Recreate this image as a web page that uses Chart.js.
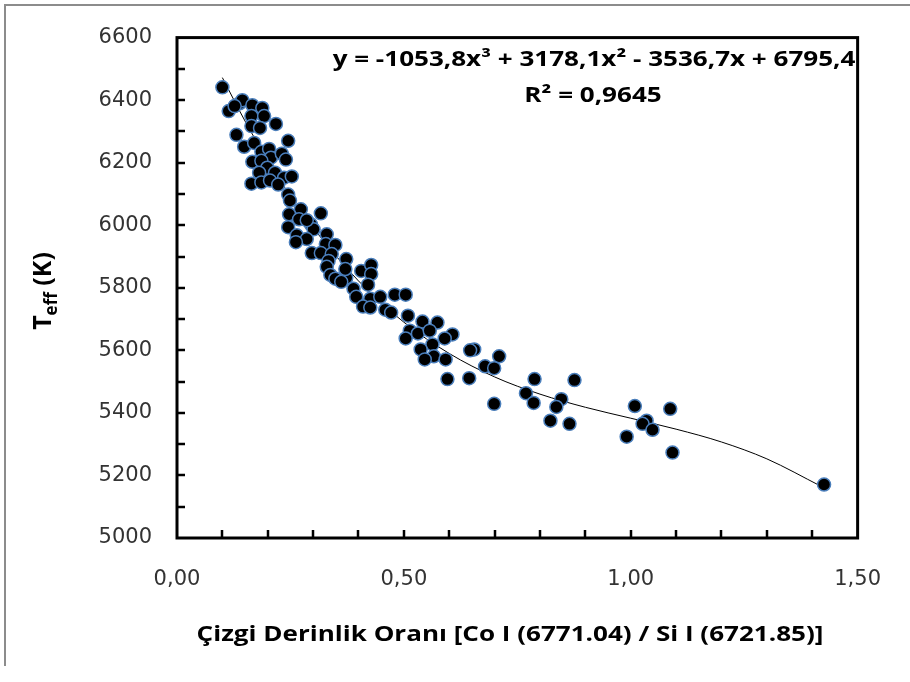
<!DOCTYPE html>
<html lang="tr">
<head>
<meta charset="UTF-8">
<title>Teff - Çizgi Derinlik Oranı</title>
<script src="https://cdn.jsdelivr.net/npm/chart.js"></script>
<style>
  body { margin: 0; background: #fff; }
  canvas { display: block; }
</style>
</head>
<body>
<canvas id="chart" width="910" height="682"></canvas>
<script>
// line depth ratio (x) and Teff in K (y)
const ratio = [0.100,0.138,0.144,0.114,0.127,0.166,0.188,0.164,0.192,0.218,
  0.164,0.183,0.131,0.245,0.148,0.170,0.186,0.203,0.207,0.231,
  0.166,0.186,0.240,0.199,0.181,0.216,0.164,0.186,0.205,0.236,
  0.253,0.223,0.245,0.249,0.273,0.247,0.269,0.317,0.295,0.245,
  0.301,0.264,0.330,0.286,0.262,0.328,0.349,0.297,0.317,0.341,
  0.334,0.373,0.330,0.406,0.428,0.428,0.338,0.349,0.373,0.362,
  0.421,0.389,0.395,0.426,0.448,0.371,0.480,0.504,0.410,0.426,
  0.459,0.472,0.509,0.541,0.574,0.513,0.504,0.531,0.557,0.607,
  0.590,0.563,0.537,0.566,0.546,0.592,0.655,0.646,0.710,0.679,
  0.699,0.596,0.644,0.699,0.788,0.876,0.769,0.786,0.847,0.836,
  0.823,0.865,1.009,1.035,1.026,1.048,0.991,1.087,1.092,1.426,
  0.286];
const teff = [6441,6390,6400,6365,6381,6384,6375,6349,6349,6324,
  6317,6311,6289,6270,6251,6263,6235,6244,6216,6229,
  6203,6206,6210,6184,6168,6168,6133,6137,6143,6152,
  6156,6130,6098,6079,6051,6035,6019,6038,6003,5994,
  5987,5968,5971,5956,5946,5940,5937,5911,5911,5908,
  5886,5892,5867,5854,5873,5844,5841,5829,5832,5819,
  5810,5797,5771,5765,5771,5860,5778,5778,5740,5737,
  5730,5721,5711,5692,5689,5663,5638,5654,5663,5651,
  5638,5619,5603,5581,5571,5571,5603,5600,5581,5549,
  5543,5508,5511,5429,5508,5505,5463,5432,5444,5419,
  5375,5365,5422,5375,5365,5346,5324,5413,5273,5171,
  6016];

// polynomial trendline, points
const trendX = [0.10,0.15,0.20,0.25,0.30,0.40,0.50,0.60,0.70,0.80,0.90,1.00,1.10,1.20,1.30,1.42];
const trendY = [6472,6333,6207,6093,5992,5822,5690,5590,5515,5460,5418,5383,5348,5307,5253,5165];

const eqText = "y = -1053,8x³ + 3178,1x² - 3536,7x + 6795,4";
const r2Text = "R² = 0,9645";
const xTitle = "Çizgi Derinlik Oranı [Co I (6771.04) / Si I (6721.85)]";

const FONT = "'Open Sans', 'Liberation Sans', sans-serif";
const TICK_FONT = "'DejaVu Sans', 'Open Sans', sans-serif";
const STRETCH = 1.24;   // the original picture is widened horizontally

const points = ratio.map((x, i) => ({ x: x, y: teff[i] }));
const trend = trendX.map((x, i) => ({ x: x, y: trendY[i] }));

function wideText(c, text, cx, cy) {
  c.save();
  c.translate(cx, cy);
  c.scale(STRETCH, 1);
  c.fillText(text, 0, 0);
  c.restore();
}

// box, inward tick marks, titles and the trendline equation
const decor = {
  id: 'decor',
  beforeDraw(chart) {
    const c = chart.ctx;
    c.save();
    c.fillStyle = '#fff';
    c.fillRect(0, 0, chart.width, chart.height);
    c.strokeStyle = '#8c8c8c';
    c.lineWidth = 2;
    c.beginPath();
    c.moveTo(5, 666);
    c.lineTo(5, 5);
    c.lineTo(910, 5);
    c.stroke();
    c.restore();
  },
  afterDraw(chart) {
    const c = chart.ctx;
    const a = chart.chartArea;
    const xs = chart.scales.x, ys = chart.scales.y;
    c.save();
    c.strokeStyle = '#000';
    c.lineWidth = 3;
    c.strokeRect(a.left, a.top, a.right - a.left, a.bottom - a.top);

    c.lineWidth = 2.5;
    c.beginPath();
    for (let v = 5100; v < 6600; v += 100) {
      const py = Math.round(ys.getPixelForValue(v));
      c.moveTo(a.left, py);
      c.lineTo(a.left + 8, py);
    }
    for (let k = 1; k < 15; k++) {
      const px = Math.round(xs.getPixelForValue(k / 10));
      c.moveTo(px, a.bottom);
      c.lineTo(px, a.bottom - 8);
    }
    c.stroke();

    c.fillStyle = '#000';
    c.textAlign = 'center';
    c.textBaseline = 'middle';
    c.font = "bold 21px " + FONT;
    wideText(c, eqText, 594, 60);
    wideText(c, r2Text, 593, 96);
    wideText(c, xTitle, 510, 635);

    // y title: T with subscript eff, rotated
    c.translate(42, 291);
    c.rotate(-Math.PI / 2);
    c.textAlign = 'left';
    c.textBaseline = 'alphabetic';
    const big = "bold 25px " + FONT, small = "bold 17px " + FONT;
    c.font = big;
    const wT = c.measureText("T").width;
    const wK = c.measureText(" (K)").width;
    c.font = small;
    const wE = c.measureText("eff").width;
    const x0 = -(wT + wE + wK) / 2;
    c.font = big;
    c.fillText("T", x0, 9);
    c.font = small;
    c.fillText("eff", x0 + wT, 15);
    c.font = big;
    c.fillText(" (K)", x0 + wT + wE, 9);
    c.restore();
  }
};

new Chart(document.getElementById('chart'), {
  type: 'scatter',
  data: {
    datasets: [
      {
        label: 'Teff',
        data: points,
        pointRadius: 6.5,
        pointBackgroundColor: '#000',
        pointBorderColor: '#4a7ebb',
        pointBorderWidth: 1.5
      },
      {
        label: 'Trend',
        type: 'line',
        data: trend,
        showLine: true,
        borderColor: '#000',
        borderWidth: 1,
        pointRadius: 0,
        fill: false,
        cubicInterpolationMode: 'monotone'
      }
    ]
  },
  options: {
    responsive: false,
    animation: false,
    layout: { padding: { left: 0, top: 34, right: 46, bottom: 0 } },
    plugins: { legend: { display: false }, tooltip: { enabled: false } },
    scales: {
      x: {
        type: 'linear',
        min: 0,
        max: 1.5,
        afterFit(s) { s.height = 144; },
        grid: { display: false, drawTicks: false },
        border: { display: false },
        ticks: {
          stepSize: 0.5,
          padding: 29,
          color: '#333',
          font: { family: TICK_FONT, size: 21 },
          callback: v => v.toFixed(2).replace('.', ',')
        }
      },
      y: {
        min: 5000,
        max: 6600,
        afterFit(s) { s.width = 177; },
        grid: { display: false, drawTicks: false },
        border: { display: false },
        ticks: {
          stepSize: 200,
          padding: 25,
          color: '#333',
          font: { family: TICK_FONT, size: 21 },
          callback: v => String(v)
        }
      }
    }
  },
  plugins: [decor]
});
</script>
</body>
</html>
